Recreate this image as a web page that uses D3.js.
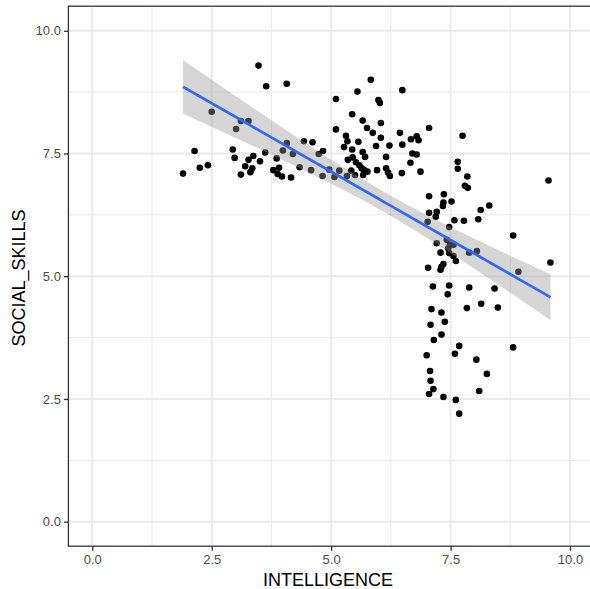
<!DOCTYPE html>
<html>
<head>
<meta charset="utf-8">
<script src="https://cdn.jsdelivr.net/npm/d3@7"></script>
<style>
body { margin: 0; background: #fff; }
</style>
</head>
<body>
<script>

var w = 590;
var h = 589;

// data

var intelligence = [
  3.48, 3.64, 4.07, 2.50, 3.11, 3.27, 3.01, 4.43, 4.61, 4.07,
  3.99, 4.20, 4.74, 4.83, 2.14, 2.94, 2.98, 3.62, 3.37, 3.27,
  3.51, 3.86, 3.20, 3.35, 2.25, 2.42, 1.90, 3.11, 3.31, 3.79,
  3.91, 3.88, 3.97, 4.16, 4.34, 4.58, 4.82, 4.96, 5.07, 5.17,
  5.33, 5.42, 5.10, 5.55, 5.83, 6.49, 5.99, 6.02, 5.44, 5.66,
  6.04, 5.75, 5.87, 5.10, 5.31, 5.34, 5.57, 6.04, 6.44, 7.05,
  6.79, 6.83, 6.67, 6.22, 5.94, 6.49, 5.27, 5.44, 5.66, 5.71,
  6.70, 6.79, 6.15, 5.45, 5.35, 5.52, 5.59, 5.64, 5.69, 5.76,
  6.66, 5.50, 5.67, 5.96, 6.15, 6.19, 6.23, 6.48, 6.87, 7.05,
  7.36, 7.75, 7.65, 7.65, 7.85, 7.80, 7.86, 9.55, 7.35, 7.34,
  7.52, 7.05, 7.21, 7.19, 8.31, 8.13, 7.58, 7.78, 8.08, 7.02,
  7.47, 8.81, 7.42, 7.49, 7.45, 7.21, 7.56, 7.89, 8.05, 7.29,
  7.47, 7.56, 7.61, 7.03, 7.35, 7.31, 7.29, 8.92, 9.59, 7.13,
  7.47, 7.44, 7.89, 8.42, 7.10, 7.31, 7.84, 8.14, 8.49, 7.08,
  7.38, 7.31, 7.15, 7.68, 7.59, 8.81, 7.00, 8.04, 8.26, 7.07,
  7.08, 7.14, 7.05, 7.35, 8.10, 7.61, 7.68
];

var social_skills = [
  9.29, 8.87, 8.92, 8.35, 8.16, 8.16, 8.00, 7.75, 7.73, 7.71,
  7.56, 7.49, 7.49, 7.55, 7.55, 7.58, 7.41, 7.52, 7.45, 7.37,
  7.34, 7.40, 7.24, 7.20, 7.21, 7.26, 7.09, 7.07, 7.12, 7.16,
  7.21, 7.08, 7.03, 7.01, 7.22, 7.16, 7.04, 7.17, 7.02, 7.15,
  7.04, 7.15, 8.61, 8.76, 9.00, 8.79, 8.59, 8.53, 8.30, 8.17,
  8.12, 8.02, 7.92, 7.99, 7.86, 7.75, 7.74, 7.82, 7.92, 8.02,
  7.85, 7.77, 7.79, 7.66, 7.65, 7.68, 7.63, 7.58, 7.53, 7.43,
  7.50, 7.48, 7.43, 7.42, 7.37, 7.32, 7.26, 7.20, 7.16, 7.13,
  7.31, 7.06, 7.06, 7.16, 7.20, 7.11, 7.04, 7.10, 7.13, 6.63,
  6.67, 7.86, 7.33, 7.19, 7.03, 6.84, 6.80, 6.95, 6.50, 6.43,
  6.52, 6.29, 6.31, 6.21, 6.44, 6.35, 6.14, 6.13, 6.16, 6.11,
  6.00, 5.83, 5.74, 5.64, 5.57, 5.67, 5.64, 5.48, 5.51, 5.48,
  5.47, 5.41, 5.31, 5.17, 5.25, 5.19, 5.13, 5.09, 5.28, 4.79,
  4.81, 4.63, 4.77, 4.75, 4.33, 4.26, 4.35, 4.44, 4.36, 4.01,
  4.07, 3.81, 3.70, 3.58, 3.42, 3.55, 3.39, 3.30, 3.01, 3.07,
  2.87, 2.70, 2.60, 2.54, 2.66, 2.48, 2.20
];

var x_ticks = [0, 2.5, 5, 7.5, 10];
var y_ticks = [0, 2.5, 5, 7.5, 10];
var minor_ticks = [1.25, 3.75, 6.25, 8.75];

var points = intelligence.map(function(d, i) {
    return {x: d, y: social_skills[i]};
});

// scales (ggplot style 5% expansion)

var pLeft = 68.4, pRight = 593.9, pTop = 6.2, pBottom = 546.2;

var x = d3.scaleLinear().domain([-0.5, 10.5]).range([pLeft, pRight]);
var y = d3.scaleLinear().domain([-0.5, 10.5]).range([pBottom, pTop]);

var svg = d3.select("body")
    .append("svg")
    .attr("width", w)
    .attr("height", h)
    .style("font-family", "'Liberation Sans', Arial, sans-serif");

// grid

var grid = svg.append("g");

grid.selectAll(".minx").data(minor_ticks).enter().append("line")
    .attr("x1", function(d) { return x(d); })
    .attr("x2", function(d) { return x(d); })
    .attr("y1", pTop).attr("y2", pBottom)
    .attr("stroke", "#EBEBEB").attr("stroke-width", 1);

grid.selectAll(".miny").data(minor_ticks).enter().append("line")
    .attr("y1", function(d) { return y(d); })
    .attr("y2", function(d) { return y(d); })
    .attr("x1", pLeft).attr("x2", pRight)
    .attr("stroke", "#EBEBEB").attr("stroke-width", 1);

grid.selectAll(".majx").data(x_ticks).enter().append("line")
    .attr("x1", function(d) { return x(d); })
    .attr("x2", function(d) { return x(d); })
    .attr("y1", pTop).attr("y2", pBottom)
    .attr("stroke", "#EBEBEB").attr("stroke-width", 2);

grid.selectAll(".majy").data(y_ticks).enter().append("line")
    .attr("y1", function(d) { return y(d); })
    .attr("y2", function(d) { return y(d); })
    .attr("x1", pLeft).attr("x2", pRight)
    .attr("stroke", "#EBEBEB").attr("stroke-width", 2);

// points

svg.append("g").selectAll("circle")
    .data(points)
    .enter()
    .append("circle")
    .attr("cx", function(d) { return x(d.x); })
    .attr("cy", function(d) { return y(d.y); })
    .attr("r", 3.3)
    .attr("fill", "#000");

// linear fit with 95% band

var n = points.length;
var mx = d3.mean(points, function(d) { return d.x; });
var my = d3.mean(points, function(d) { return d.y; });
var sxx = d3.sum(points, function(d) { return (d.x - mx) * (d.x - mx); });
var sxy = d3.sum(points, function(d) { return (d.x - mx) * (d.y - my); });
var slope = sxy / sxx;
var icpt = my - slope * mx;
var sse = d3.sum(points, function(d) {
    var r = d.y - (icpt + slope * d.x);
    return r * r;
});
var s = Math.sqrt(sse / (n - 2));
var tq = 1.975;

var xmin = d3.min(intelligence), xmax = d3.max(intelligence);
var fit = d3.range(0, 81).map(function(i) {
    var xv = xmin + (xmax - xmin) * i / 80;
    var yv = icpt + slope * xv;
    var se = s * Math.sqrt(1 / n + (xv - mx) * (xv - mx) / sxx);
    return {x: xv, y: yv, lo: yv - tq * se, hi: yv + tq * se};
});

svg.append("path")
    .datum(fit)
    .attr("d", d3.area()
        .x(function(d) { return x(d.x); })
        .y0(function(d) { return y(d.lo); })
        .y1(function(d) { return y(d.hi); }))
    .attr("fill", "#999999")
    .attr("fill-opacity", 0.4);

svg.append("path")
    .datum(fit)
    .attr("d", d3.line()
        .x(function(d) { return x(d.x); })
        .y(function(d) { return y(d.y); }))
    .attr("fill", "none")
    .attr("stroke", "#3366FF")
    .attr("stroke-width", 2.7);

// panel border

svg.append("rect")
    .attr("x", pLeft).attr("y", pTop)
    .attr("width", pRight - pLeft).attr("height", pBottom - pTop)
    .attr("fill", "none")
    .attr("stroke", "#333333")
    .attr("stroke-width", 1.3);

// axes

var xAxis = svg.append("g")
    .attr("transform", "translate(0," + pBottom + ")")
    .call(d3.axisBottom(x).tickValues(x_ticks).tickFormat(d3.format(".1f")).tickSize(4.5).tickPadding(4));

var yAxis = svg.append("g")
    .attr("transform", "translate(" + pLeft + ",0)")
    .call(d3.axisLeft(y).tickValues(y_ticks).tickFormat(d3.format(".1f")).tickSize(4.5).tickPadding(3));

[xAxis, yAxis].forEach(function(a) {
    a.select(".domain").remove();
    a.attr("font-size", 13).attr("font-family", "'Liberation Sans', Arial, sans-serif");
    a.selectAll("line").attr("stroke", "#333333").attr("stroke-width", 1.3);
    a.selectAll("text").attr("fill", "#4D4D4D");
});

// titles

svg.append("text")
    .attr("x", 328)
    .attr("y", 586)
    .attr("text-anchor", "middle")
    .attr("font-size", 18)
    .attr("fill", "#000")
    .text("INTELLIGENCE");

svg.append("text")
    .attr("transform", "translate(25,278) rotate(-90)")
    .attr("text-anchor", "middle")
    .attr("font-size", 18)
    .attr("fill", "#000")
    .text("SOCIAL_SKILLS");

</script>
</body>
</html>
